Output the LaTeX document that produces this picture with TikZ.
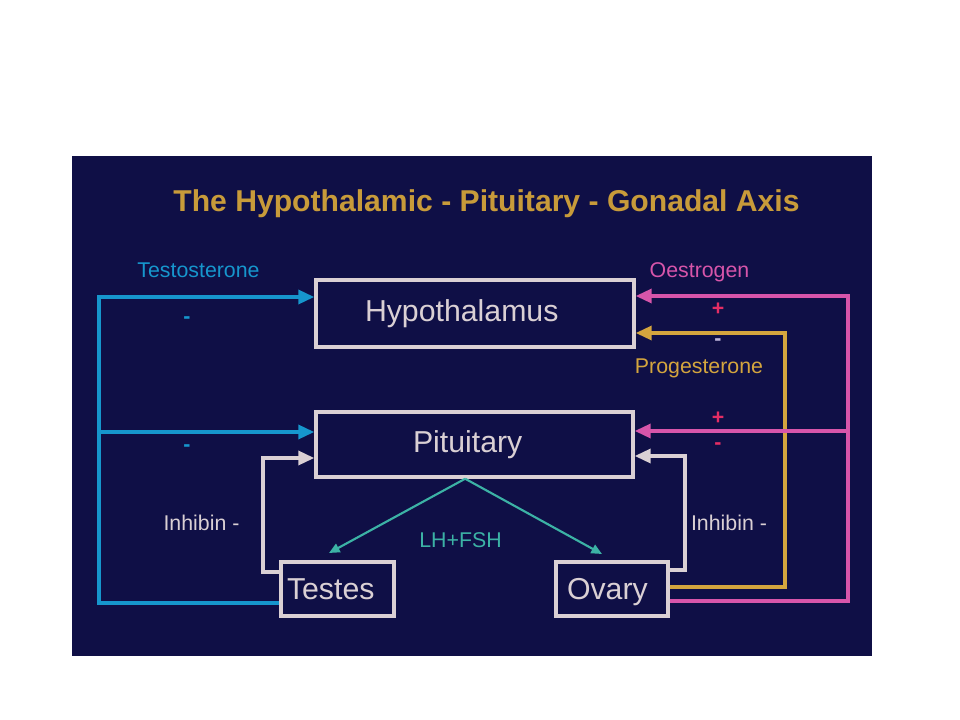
\documentclass[tikz,border=0pt]{standalone}
\usepackage{fontspec}
\setmainfont{Liberation Sans}
\usetikzlibrary{arrows.meta,positioning,calc}

\definecolor{slidebg}{RGB}{15,15,70}
\definecolor{titlegold}{RGB}{200,155,58}
\definecolor{boxgrey}{RGB}{218,208,212}
\definecolor{testocyan}{RGB}{22,150,205}
\definecolor{oestropink}{RGB}{215,85,170}
\definecolor{progold}{RGB}{212,165,62}
\definecolor{lhteal}{RGB}{60,178,165}
\definecolor{signred}{RGB}{228,45,100}
\definecolor{signpale}{RGB}{190,180,220}

\begin{document}
\begin{tikzpicture}[x=0.75pt,y=-0.75pt,line width=2.6pt,
    organ/.style={draw=boxgrey,text=boxgrey,align=left,font=\fontsize{22.7}{27}\selectfont},
    tag/.style={font=\fontsize{16}{19}\selectfont,anchor=base},
    sign/.style={font=\fontsize{16}{19}\selectfont\bfseries},
    feed/.style={-{Triangle[length=12pt,width=10.5pt]}},
    hormone/.style={lhteal,line width=1.6pt,-{Triangle[length=8pt,width=7pt]}}]

      \useasboundingbox (0,0) rectangle (960,720);
      \fill[white] (0,0) rectangle (960,720);
      \fill[slidebg] (72,156) rectangle (872,656);

      \node[titlegold,anchor=base,font=\fontsize{22.6}{27}\selectfont\bfseries] (title) at (486.5,212)
        {The Hypothalamic - Pituitary - Gonadal Axis};

      \node[organ,minimum height=50.25pt,inner xsep=36.75pt,text width=165pt] (hypo) at (475,313.5) {Hypothalamus};
      \node[organ,minimum height=48.75pt,inner xsep=72.75pt,text width=92.25pt] (pit) at (474.5,444.5) {Pituitary};
      \node[organ,minimum height=40.5pt,inner xsep=4.5pt,text width=75.75pt] (testes) at (337.5,589) {Testes};
      \node[organ,minimum height=40.5pt,inner xsep=8.25pt,text width=67.5pt,text depth=0pt] (ovary) at (612,589) {Ovary};

      % rails of the feedback loops
      \coordinate (cyTop) at (99,297);
      \coordinate (cyMid) at (99,432);
      \coordinate (cyBot) at (99,603);
      \coordinate (inLtop) at (263,458);
      \coordinate (inLbot) at (263,572);
      \coordinate (inRtop) at (685,456);
      \coordinate (inRbot) at (685,570);
      \coordinate (prTop) at (785,333);
      \coordinate (prBot) at (785,587);
      \coordinate (oeTop) at (848,296);
      \coordinate (oeMid) at (848,431);
      \coordinate (oeBot) at (848,601);
      \coordinate (lhT) at (329,553);
      \coordinate (lhO) at (602,554);

      \draw[feed,testocyan] (testes.west |- cyBot) -- (cyBot) -- (cyTop) -- (hypo.west |- cyTop);
      \draw[feed,testocyan] (cyMid) -- (pit.west |- cyMid);

      \draw[feed,boxgrey] (testes.west |- inLbot) -- (inLbot) -- (inLtop) -- (pit.west |- inLtop);
      \draw[feed,boxgrey] (ovary.east |- inRbot) -- (inRbot) -- (inRtop) -- (pit.east |- inRtop);

      \draw[feed,progold] (ovary.east |- prBot) -- (prBot) -- (prTop) -- (hypo.east |- prTop);
      \draw[feed,oestropink] (ovary.east |- oeBot) -- (oeBot) -- (oeTop) -- (hypo.east |- oeTop);
      \draw[feed,oestropink] (oeMid) -- (pit.east |- oeMid);

      \draw[hormone] ([xshift=-7pt]pit.south) -- (lhT);
      \draw[hormone] ([xshift=-7pt]pit.south) -- (lhO);

      \node[tag,testocyan] (testo) at (198.5,277) {Testosterone};
      \node[tag,oestropink] (oestro) at (699.5,278) {Oestrogen};
      \node[tag,progold] (proges) at (699,373) {Progesterone};
      \node[tag,boxgrey] (inhibT) at (201.5,530) {Inhibin -};
      \node[tag,boxgrey] (inhibO) at (729,530) {Inhibin -};
      \node[tag,lhteal] (lh) at (460.5,547) {LH+FSH};

      \node[sign,testocyan] (mHypoT) at (187,320) {-};
      \node[sign,testocyan] (mPitT) at (187,448) {-};
      \node[sign,signred] (pHypoO) at (718,309) {+};
      \node[sign,signpale] (mHypoP) at (718,342) {-};
      \node[sign,signred] (pPitO) at (718,418) {+};
      \node[sign,signred] (mPitO) at (718,446) {-};

    \end{tikzpicture}
\end{document}
